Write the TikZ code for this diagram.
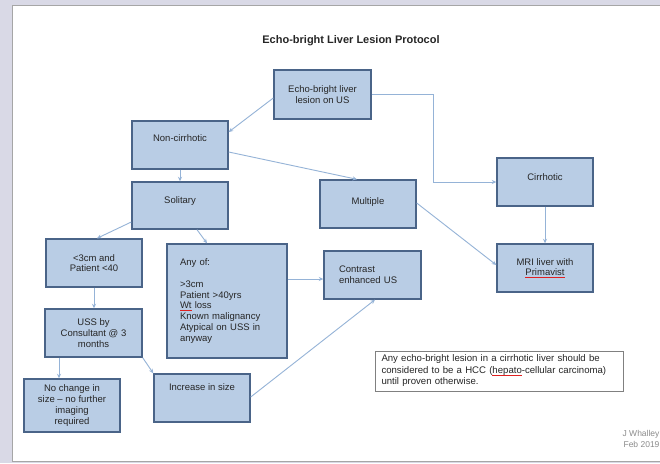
\documentclass[tikz,border=0pt]{standalone}
\usepackage{fontspec}
\setmainfont{Liberation Sans}
\usetikzlibrary{arrows.meta,calc}
\definecolor{bg}{HTML}{D9D9E6}
\definecolor{boxfill}{HTML}{B9CDE5}
\definecolor{boxline}{HTML}{4A6488}
\definecolor{linkcol}{HTML}{95B3D7}
\definecolor{txt}{HTML}{262626}
\definecolor{spellred}{HTML}{E02020}
\newsavebox\spellbox
\newcommand\spellmark[1]{\leavevmode\sbox\spellbox{#1}\rlap{\color{spellred}\rule[-2pt]{\wd\spellbox}{0.7pt}}\usebox\spellbox}
\begin{document}
\begin{tikzpicture}[x=1pt,y=-1pt,
  bx/.style={draw=boxline, fill=boxfill, line width=1.4pt, minimum width=96pt,
    minimum height=48pt, align=center, inner sep=2pt, text=txt,
    font=\fontsize{9.5}{10.7}\selectfont},
  lift/.style={text height=7pt, text depth=#1},
  link/.style={draw=linkcol, line width=0.9pt, -{Stealth[length=4.5pt,width=4pt]}},
  notebox/.style={draw=black!50, fill=white, line width=0.8pt, align=left,
    text width=235pt, inner xsep=6.5pt, minimum width=248pt, minimum height=40pt,
    text=txt, font=\fontsize{9.6}{11.5}\selectfont}]
\useasboundingbox (0,0) rectangle (660,463);
\fill[bg] (0,0) rectangle (660,463);
\draw[fill=white, draw=black!35, line width=0.8pt] (12.5,5) rectangle (664,461);

\node[font=\bfseries\fontsize{11}{13}\selectfont, text=txt] (title) at (351,41) {Echo-bright Liver Lesion Protocol};

\node[bx, minimum width=97pt, minimum height=49pt] (echo) at (322.5,94.5) {Echo-bright liver\\lesion on US};
\node[bx, lift=14.6pt] (non) at (180,145) {Non-cirrhotic};
\node[bx, lift=10.6pt, minimum height=47pt] (sol) at (180,205.5) {Solitary};
\node[bx, lift=6.6pt] (mult) at (368,204) {Multiple};
\node[bx, lift=10.6pt] (cirr) at (545,182) {Cirrhotic};
\node[bx] (mri) at (545,268) {MRI liver with\\\spellmark{Primavist}};
\node[bx] (lt3) at (94,263) {<3cm and\\Patient <40};
\node[bx, minimum width=97pt] (uss) at (93.5,333) {USS by\\Consultant @ 3\\months};
\node[bx, minimum height=53pt] (nochg) at (72,405.5) {No change in\\size – no further\\imaging\\required};
\node[bx, lift=22.6pt] (inc) at (202,398) {Increase in size};
\node[bx, align=left, text width=94pt, inner xsep=13pt, minimum width=120pt, minimum height=114pt] (any) at (227,301)
  {Any of:\\[11pt]>3cm\\Patient >40yrs\\\spellmark{Wt} loss\\Known malignancy\\Atypical on USS in\\anyway};
\node[bx, align=left, text width=67pt, inner xsep=15pt, minimum width=97pt] (cev) at (372.5,275) {Contrast\\enhanced US};

\node[notebox] (note) at (499,371) {Any echo-bright lesion in a cirrhotic liver should be\\considered to be a HCC (\spellmark{hepato}-cellular carcinoma)\\until proven otherwise.};

\node[anchor=north east, align=right, text=black!45, font=\fontsize{8.5}{10.5}\selectfont] (auth) at (663,427) {J Whalley\\Feb 2019};

\draw[link] ([yshift=-3.5pt]echo.west) -- ([yshift=13pt]non.east);
\draw[link] (echo.east) -| ([xshift=-63pt]cirr.west) -- (cirr.west);
\draw[link] (non.south) -- (sol.north);
\draw[link] ([yshift=-7pt]non.east) -- ([xshift=-11pt]mult.north);
\draw[link] (cirr.south) -- (mri.north);
\draw[link] ([yshift=1pt]mult.east) -- ([yshift=3pt]mri.west);
\draw[link] ([yshift=-16.5pt]sol.west) -- ([xshift=3pt]lt3.north);
\draw[link] ([xshift=17pt]sol.south) -- ([xshift=-20pt]any.north);
\draw[link] (lt3.south) -- (lt3.south |- uss.north);
\draw[link] ([xshift=-34.5pt]uss.south) -- ([xshift=-34.5pt]uss.south |- nochg.north);
\draw[link] (uss.south east) -- (inc.north west);
\draw[link] ([yshift=22pt]any.east) -- ([yshift=22pt]any.east -| cev.west);
\draw[link] ([yshift=1pt]inc.east) -- ([xshift=2.5pt]cev.south);
\end{tikzpicture}
\end{document}
